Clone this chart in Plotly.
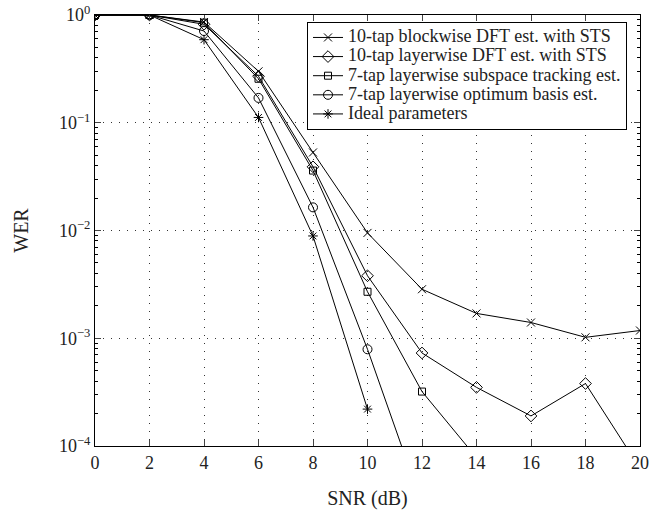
import plotly.graph_objects as go

snr = [0, 2, 4, 6, 8, 10, 12, 14, 16, 18, 20]
names = [
    "10-tap blockwise DFT est. with STS",
    "10-tap layerwise DFT est. with STS",
    "7-tap layerwise subspace tracking est.",
    "7-tap layerwise optimum basis est.",
    "Ideal parameters",
]
wer_block_dft = [1.0, 1.0, 0.86, 0.30, 0.053, 0.0095, 0.00285, 0.0017, 0.0014, 0.00102, 0.00118]
wer_layer_dft = [1.0, 1.0, 0.82, 0.27, 0.039, 0.0038, 0.00073, 0.00035, 0.00019, 0.00038, 0.000062]
wer_subspace = [1.0, 1.0, 0.85, 0.256, 0.036, 0.0027, 0.00032, 0.000078]
wer_optimum = [1.0, 1.0, 0.71, 0.17, 0.0164, 0.00079, 0.000029]
wer_ideal = [1.0, 1.0, 0.59, 0.112, 0.0089, 0.00022]

series = [wer_block_dft, wer_layer_dft, wer_subspace, wer_optimum, wer_ideal]
symbols = ["x-thin-open", "diamond-open", "square-open", "circle-open", "asterisk-open"]
sizes = [8, 9, 7, 9, 8]

fig = go.Figure()
for name, vals, sym, sz in zip(names, series, symbols, sizes):
    fig.add_trace(go.Scatter(
        x=snr[:len(vals)], y=vals,
        name='<span style="font-size:18px">' + name + '</span>',
        mode="lines+markers",
        line=dict(color="black", width=1),
        marker=dict(symbol=sym, size=sz, color="black", line=dict(color="black", width=1)),
        cliponaxis=True,
    ))

font_family = "Liberation Serif, Times New Roman, serif"
ytickvals = [1e-4, 1e-3, 1e-2, 1e-1, 1]
yticktext = ["10<sup>−4</sup>", "10<sup>−3</sup>", "10<sup>−2</sup>", "10<sup>−1</sup>", "10<sup>0</sup>"]
minor_vals = [m * 10 ** e for e in range(-4, 0) for m in range(2, 10)]

fig.update_layout(
    width=662, height=510,
    margin=dict(l=95, r=22, t=15, b=64),
    paper_bgcolor="white", plot_bgcolor="white",
    font=dict(family=font_family, size=18, color="#222"),
    showlegend=True,
    legend=dict(
        x=0.389, y=0.984, xanchor="left", yanchor="top",
        bgcolor="white", bordercolor="black", borderwidth=1,
        font=dict(size=12.4, family=font_family, color="#222"),
        tracegroupgap=0, itemwidth=30,
    ),
)
fig.update_xaxes(
    range=[0, 20], tickvals=snr, ticks="inside", ticklen=6,
    showline=True, linecolor="black", linewidth=1, mirror="ticks",
    showgrid=True, gridcolor="#333", griddash="1px,7px", gridwidth=1,
    zeroline=False, automargin=False,
    title=dict(text="SNR (dB)", standoff=20, font=dict(size=20)),
)
fig.update_yaxes(
    type="log", range=[-4, 0], tickvals=ytickvals, ticktext=yticktext,
    ticks="inside", ticklen=6, ticklabeloverflow="allow",
    showline=True, linecolor="black", linewidth=1, mirror="ticks",
    showgrid=True, gridcolor="#333", griddash="1px,7px", gridwidth=1,
    minor=dict(tickvals=minor_vals, ticks="inside", ticklen=3, tickcolor="black", showgrid=False),
    zeroline=False, automargin=False,
    title=dict(text="WER", standoff=24, font=dict(size=20)),
)

fig.write_html(
    "out.html",
    config={"displayModeBar": False},
    post_script="document.body.style.margin='0';",
)
